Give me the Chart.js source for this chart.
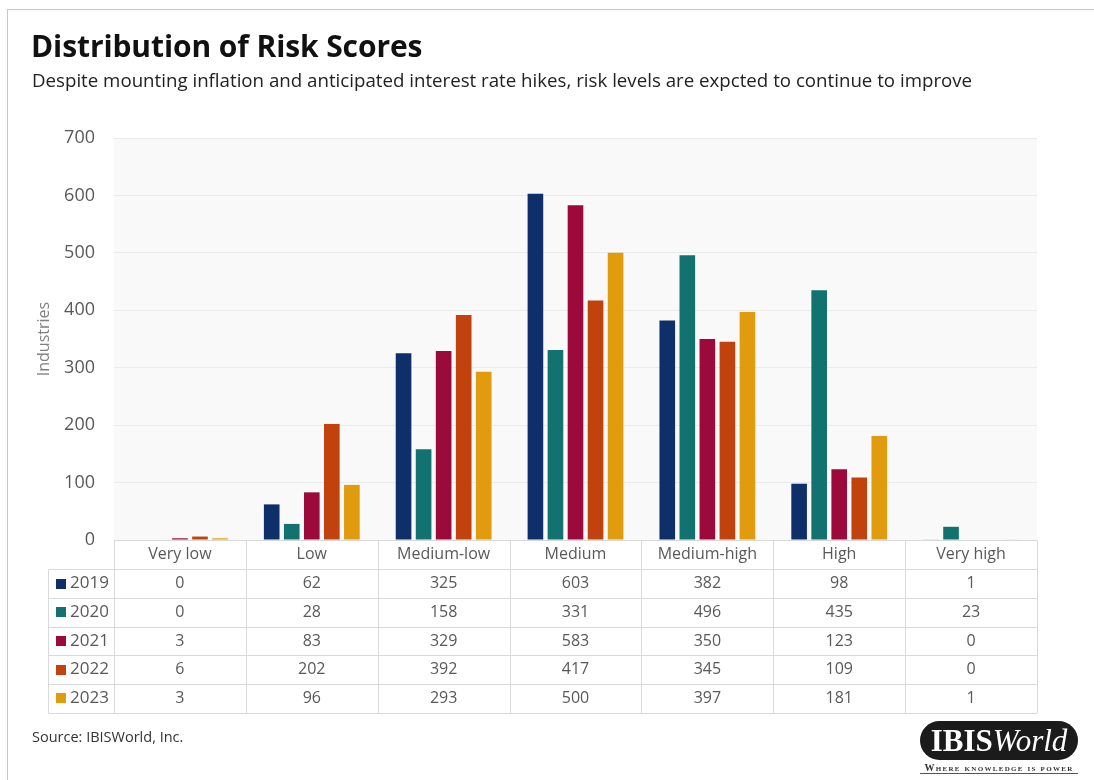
<!DOCTYPE html>
<html>
<head>
<meta charset="utf-8">
<script src="https://cdn.jsdelivr.net/npm/chart.js@4.4.0/dist/chart.umd.min.js"></script>
<style>
  body { margin: 0; background: #fff; font-family: "Open Sans", sans-serif; }
  #wrap { position: relative; width: 1094px; height: 780px; overflow: hidden; }
  #frame { position: absolute; left: 7px; top: 9px; right: -5px; bottom: -5px; border: 1px solid #c8c8c8; }
  #chart { position: absolute; left: 0; top: 0; }
  #title { position: absolute; left: 31px; top: 25px; font-size: 30px; font-weight: 700; color: #111; letter-spacing: -0.1px; }
  #subtitle { position: absolute; left: 32px; top: 67px; font-size: 18.7px; color: #222; }
  #source { position: absolute; left: 32px; top: 727px; font-size: 14.5px; color: #333; }
  #logo { position: absolute; left: 920px; top: 721px; width: 158px; height: 39px; background: #1b1b1b;
          border-radius: 20px; color: #fff; font-family: "Liberation Serif", serif; font-size: 31px;
          text-align: center; line-height: 39px; }
  #logo b { font-weight: 700; }
  #logo i { font-style: italic; }
  #tagline { position: absolute; left: 920px; top: 762px; width: 158px; text-align: center;
             font-family: "Liberation Serif", serif; font-size: 10px; font-weight: 700; color: #333;
             font-variant: small-caps; letter-spacing: 1.3px; border-bottom: 1px solid #555; line-height: 11px;
             white-space: nowrap; }
</style>
</head>
<body>
<div id="wrap">
  <div id="frame"></div>
  <canvas id="chart" width="1094" height="780"></canvas>
  <div id="title">Distribution of Risk Scores</div>
  <div id="subtitle">Despite mounting inflation and anticipated interest rate hikes, risk levels are expcted to continue to improve</div>
  <div id="source">Source: IBISWorld, Inc.</div>
  <div id="logo"><b>IBIS</b><i>World</i></div>
  <div id="tagline">Where knowledge is power</div>
</div>
<script>
// data
const categories = ["Very low", "Low", "Medium-low", "Medium", "Medium-high", "High", "Very high"];
const years = ["2019", "2020", "2021", "2022", "2023"];
const values2019 = [0, 62, 325, 603, 382, 98, 1];
const values2020 = [0, 28, 158, 331, 496, 435, 23];
const values2021 = [3, 83, 329, 583, 350, 123, 0];
const values2022 = [6, 202, 392, 417, 345, 109, 0];
const values2023 = [3, 96, 293, 500, 397, 181, 1];
const yearColors = ["#0f2f6b", "#12726f", "#9b0a3b", "#c1420c", "#e09b0e"];

const allValues = [values2019, values2020, values2021, values2022, values2023];
const textColor = "#595959";
const lineColor = "#d9d9d9";

// light grey plot background
const plotBg = {
    id: "plotBg",
    beforeDraw(chart) {
        const { ctx, chartArea } = chart;
        ctx.save();
        ctx.fillStyle = "#f9f9f9";
        ctx.fillRect(chartArea.left, chartArea.top, chartArea.right - chartArea.left, chartArea.bottom - chartArea.top);
        ctx.restore();
    }
};

// data table under the bars, columns taken from the x scale
const dataTable = {
    id: "dataTable",
    afterDraw(chart) {
        const { ctx, chartArea, scales: { x } } = chart;
        const step = x.getPixelForValue(1) - x.getPixelForValue(0);
        const top = Math.round(chartArea.bottom) + 0.5;
        const rowH = 28.7;
        const legendLeft = 48.5;
        const nRows = chart.data.datasets.length + 1;
        const bottom = top + rowH * nRows;

        ctx.save();
        ctx.strokeStyle = lineColor;
        ctx.lineWidth = 1;
        ctx.beginPath();
        ctx.moveTo(x.left, top);
        ctx.lineTo(x.right, top);
        for (let r = 1; r <= nRows; r++) {
            const y = Math.round(top + r * rowH) + 0.5;
            ctx.moveTo(legendLeft, y);
            ctx.lineTo(x.right, y);
        }
        ctx.moveTo(legendLeft, Math.round(top + rowH) + 0.5);
        ctx.lineTo(legendLeft, Math.round(bottom) + 0.5);
        for (let i = 0; i <= chart.data.labels.length; i++) {
            const xp = Math.round(x.getPixelForValue(i) - step / 2) + 0.5;
            ctx.moveTo(xp, top);
            ctx.lineTo(xp, Math.round(bottom) + 0.5);
        }
        ctx.stroke();

        ctx.font = "16px 'Open Sans', sans-serif";
        ctx.fillStyle = textColor;
        ctx.textAlign = "center";
        ctx.textBaseline = "middle";
        chart.data.labels.forEach((lab, i) => {
            ctx.fillText(lab, x.getPixelForValue(i), top + rowH / 2);
        });
        chart.data.datasets.forEach((ds, r) => {
            const yc = top + rowH * (r + 1.5);
            ctx.fillStyle = ds.backgroundColor;
            ctx.fillRect(56, Math.round(yc - 5), 10, 10);
            ctx.fillStyle = textColor;
            ctx.textAlign = "left";
            ctx.font = "17px 'Open Sans', sans-serif";
            ctx.fillText(ds.label, 70, yc);
            ctx.font = "16px 'Open Sans', sans-serif";
            ctx.textAlign = "center";
            ds.data.forEach((v, i) => {
                ctx.fillText(String(v), x.getPixelForValue(i), yc);
            });
        });
        ctx.restore();
    }
};

new Chart(document.getElementById("chart"), {
    type: "bar",
    data: {
        labels: categories,
        datasets: years.map((yr, k) => ({
            label: yr,
            data: allValues[k],
            backgroundColor: yearColors[k],
            borderWidth: 0,
            categoryPercentage: 0.76,
            barPercentage: 0.78
        }))
    },
    options: {
        responsive: false,
        animation: false,
        layout: { padding: { top: 138, right: 57, bottom: 240, left: 0 } },
        plugins: {
            legend: { display: false },
            tooltip: { enabled: false }
        },
        scales: {
            x: { display: false },
            y: {
                min: 0,
                max: 700,
                ticks: {
                    stepSize: 100,
                    color: textColor,
                    padding: 19,
                    font: { family: "'Open Sans', sans-serif", size: 18 }
                },
                grid: { color: "#ebebeb", drawTicks: false },
                border: { display: false },
                title: {
                    display: true,
                    text: "Industries",
                    color: "#7f7f7f",
                    font: { family: "'Open Sans', sans-serif", size: 16 },
                    padding: { top: 35, bottom: 0 }
                },
                afterFit(scale) { scale.width = 114; }
            }
        }
    },
    plugins: [plotBg, dataTable]
});
</script>
</body>
</html>
